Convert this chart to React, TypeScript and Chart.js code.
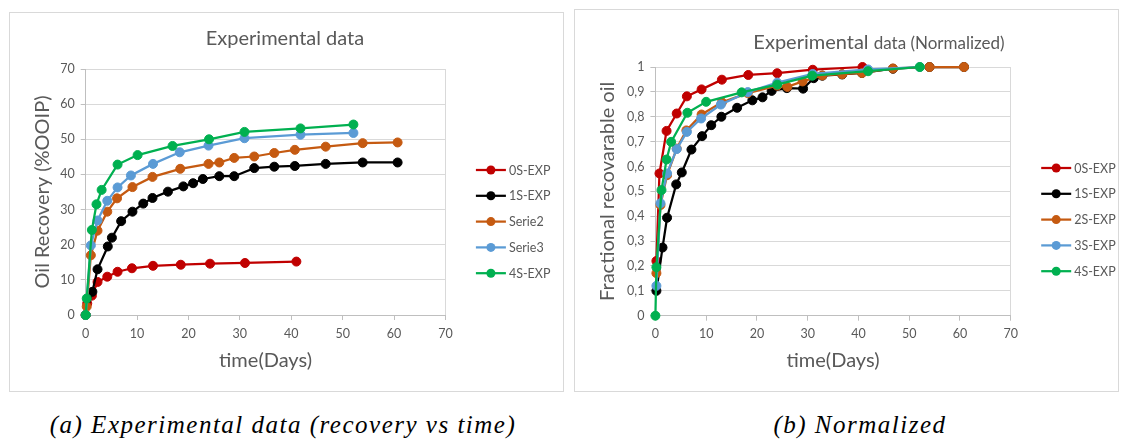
import React, { useEffect, useRef } from "react";
import { Chart, registerables } from "chart.js";

Chart.register(...registerables);

const FONT = "Lato, 'Open Sans', sans-serif";
const TEXT = "#595959";
const GRID = "#d9d9d9";
const AXIS = "#bfbfbf";

const RED = "#c00000";
const BLACK = "#000000";
const ORANGE = "#c55a11";
const BLUE = "#5b9bd5";
const GREEN = "#00b050";

// ---- Oil recovery (%OOIP) vs time (days) ----
const rec0sDays = [0, 0.3, 1.2, 2.3, 4.2, 6.2, 9, 13.1, 18.5, 24.2, 31, 41];
const rec0sVals = [0, 3.3, 5.5, 9.4, 10.9, 12.3, 13.3, 14.0, 14.3, 14.6, 14.8, 15.2];

const rec1sDays = [0, 1.3, 2.3, 4.3, 5.1, 6.9, 9.1, 11.2, 13.0, 16.0, 19.0, 20.9, 22.8, 26.0, 28.9, 32.8, 36.7, 40.7, 46.7, 53.9, 60.7];
const rec1sVals = [0, 6.6, 13.0, 19.5, 22.0, 26.7, 29.4, 31.7, 33.3, 35.1, 36.6, 37.5, 38.7, 39.5, 39.5, 41.8, 42.2, 42.4, 43.0, 43.4, 43.4];

const rec2Days = [0, 0.2, 1.0, 2.3, 4.2, 6.1, 9.1, 13.0, 18.4, 23.9, 26.0, 28.9, 32.8, 36.7, 40.7, 46.7, 53.9, 60.7];
const rec2Vals = [0, 2.4, 17.0, 24.0, 29.4, 33.2, 36.4, 39.3, 41.6, 43.0, 43.4, 44.7, 45.1, 46.1, 47.0, 47.9, 48.9, 49.1];

const rec3Days = [0, 1.0, 2.3, 4.2, 6.2, 8.8, 13.1, 18.3, 23.9, 30.9, 41.8, 52.1];
const rec3Vals = [0, 19.8, 26.9, 32.5, 36.3, 39.7, 43.0, 46.3, 48.2, 50.3, 51.3, 51.8];

const rec4sDays = [0, 0.2, 1.2, 2.1, 3.1, 6.2, 10.1, 16.9, 24.0, 30.9, 41.8, 52.1];
const rec4sVals = [0, 4.7, 24.2, 31.5, 35.6, 42.8, 45.5, 48.1, 50.0, 52.1, 53.1, 54.2];

const recLabels = ["0S-EXP", "1S-EXP", "Serie2", "Serie3", "4S-EXP"];

// ---- Fractional recoverable oil vs time (days) ----
const frac0sDays = [0.2, 0.8, 2.2, 4.2, 6.2, 9.1, 13.1, 18.3, 24.0, 31.0, 40.8];
const frac0sVals = [0.22, 0.572, 0.743, 0.813, 0.882, 0.91, 0.949, 0.968, 0.975, 0.989, 1.0];

const frac1sDays = [0.2, 1.4, 2.3, 4.1, 5.2, 7.1, 9.2, 11.0, 13.0, 16.1, 19.1, 21.1, 22.9, 25.9, 29.1, 31.2, 32.9, 36.8, 40.7, 46.8, 54.0, 60.8];
const frac1sVals = [0.1, 0.274, 0.394, 0.528, 0.576, 0.668, 0.722, 0.766, 0.8, 0.836, 0.866, 0.878, 0.904, 0.915, 0.913, 0.955, 0.965, 0.97, 0.976, 0.993, 1.0, 1.0];

const frac2sDays = [0.2, 1.0, 2.3, 4.2, 6.1, 9.1, 13.1, 18.2, 24.0, 26.0, 29.0, 32.9, 36.8, 40.7, 46.8, 54.0, 60.8];
const frac2sVals = [0.171, 0.445, 0.565, 0.672, 0.745, 0.809, 0.858, 0.895, 0.925, 0.92, 0.942, 0.966, 0.971, 0.976, 0.994, 1.0, 1.0];

const frac3sDays = [0.2, 1.0, 2.3, 4.2, 6.2, 9.0, 12.9, 18.2, 24.0, 31.0, 41.9, 52.1];
const frac3sVals = [0.12, 0.452, 0.572, 0.67, 0.739, 0.793, 0.849, 0.899, 0.937, 0.972, 0.99, 1.0];

const frac4sDays = [0, 0.2, 1.2, 2.2, 3.1, 6.3, 10.0, 17.0, 24.0, 30.9, 41.9, 52.1];
const frac4sVals = [0, 0.195, 0.505, 0.628, 0.699, 0.816, 0.86, 0.898, 0.929, 0.965, 0.983, 1.0];

const fracLabels = ["0S-EXP", "1S-EXP", "2S-EXP", "3S-EXP", "4S-EXP"];

const seriesColors = [RED, BLACK, ORANGE, BLUE, GREEN];

type Series = { label: string; days: number[]; values: number[]; color: string };

const recoverySeries: Series[] = [
  { label: recLabels[0], days: rec0sDays, values: rec0sVals, color: seriesColors[0] },
  { label: recLabels[1], days: rec1sDays, values: rec1sVals, color: seriesColors[1] },
  { label: recLabels[2], days: rec2Days, values: rec2Vals, color: seriesColors[2] },
  { label: recLabels[3], days: rec3Days, values: rec3Vals, color: seriesColors[3] },
  { label: recLabels[4], days: rec4sDays, values: rec4sVals, color: seriesColors[4] },
];

const fractionSeries: Series[] = [
  { label: fracLabels[0], days: frac0sDays, values: frac0sVals, color: seriesColors[0] },
  { label: fracLabels[1], days: frac1sDays, values: frac1sVals, color: seriesColors[1] },
  { label: fracLabels[2], days: frac2sDays, values: frac2sVals, color: seriesColors[2] },
  { label: fracLabels[3], days: frac3sDays, values: frac3sVals, color: seriesColors[3] },
  { label: fracLabels[4], days: frac4sDays, values: frac4sVals, color: seriesColors[4] },
];

type Part = { text: string; size: number };

// Chart heading drawn from text runs of different sizes, centred on x.
function headingPlugin(parts: Part[], cx: number, baseline: number) {
  return {
    id: "heading",
    afterDraw(chart: any) {
      const ctx = chart.ctx as CanvasRenderingContext2D;
      ctx.save();
      ctx.fillStyle = TEXT;
      ctx.textBaseline = "alphabetic";
      ctx.textAlign = "left";
      const widths = parts.map((p) => {
        ctx.font = `${p.size}px ${FONT}`;
        return ctx.measureText(p.text).width;
      });
      let x = cx - widths.reduce((a, b) => a + b, 0) / 2;
      parts.forEach((p, i) => {
        ctx.font = `${p.size}px ${FONT}`;
        ctx.fillText(p.text, x, baseline);
        x += widths[i];
      });
      ctx.restore();
    },
  };
}

// Legend entries: a short line with a marker, then the series name.
function lineLegendPlugin(offsetX: number, offsetY: number, step: number) {
  return {
    id: "lineLegend",
    afterDraw(chart: any) {
      const ctx = chart.ctx as CanvasRenderingContext2D;
      const area = chart.chartArea;
      const x0 = area.right + offsetX;
      ctx.save();
      chart.data.datasets.forEach((ds: any, i: number) => {
        const y = area.top + offsetY + i * step;
        ctx.strokeStyle = ds.borderColor;
        ctx.lineWidth = 2.25;
        ctx.beginPath();
        ctx.moveTo(x0, y);
        ctx.lineTo(x0 + 30, y);
        ctx.stroke();
        ctx.fillStyle = ds.borderColor;
        ctx.beginPath();
        ctx.arc(x0 + 15, y, 4.5, 0, Math.PI * 2);
        ctx.fill();
        ctx.fillStyle = TEXT;
        ctx.font = `12.5px ${FONT}`;
        ctx.textBaseline = "middle";
        ctx.textAlign = "left";
        ctx.fillText(ds.label, x0 + 33, y + 0.5);
      });
      ctx.restore();
    },
  };
}

type Spec = {
  series: Series[];
  yMax: number;
  yStep: number;
  yTitle: string;
  yFormat: (v: number) => string;
  heading: Part[];
  headingX: number;
  headingBaseline: number;
  padTop: number;
  padRight: number;
  yAxisWidth: number;
  xAxisHeight: number;
};

function buildChart(canvas: HTMLCanvasElement, spec: Spec) {
  const n = spec.series.length;
  return new Chart(canvas, {
    type: "scatter",
    data: {
      datasets: spec.series.map((s, i) => ({
        label: s.label,
        data: s.days.map((d, k) => ({ x: d, y: s.values[k] })),
        showLine: true,
        clip: false,
        borderColor: s.color,
        backgroundColor: s.color,
        pointBackgroundColor: s.color,
        pointBorderColor: s.color,
        borderWidth: 2.25,
        pointRadius: 4.5,
        pointHoverRadius: 4.5,
        pointBorderWidth: 1,
        tension: 0,
        order: n - 1 - i,
      })),
    },
    options: {
      responsive: false,
      animation: false,
      events: [],
      layout: { padding: { top: spec.padTop, right: spec.padRight, bottom: 0, left: 0 } },
      plugins: {
        legend: { display: false },
        tooltip: { enabled: false },
        title: { display: false },
      },
      scales: {
        x: {
          type: "linear",
          min: 0,
          max: 70,
          ticks: {
            stepSize: 10,
            color: TEXT,
            font: { family: FONT, size: 12.5 },
            padding: 6,
          },
          grid: {
            color: (ctx: any) => (ctx.tick && ctx.tick.value === 70 ? GRID : "rgba(0,0,0,0)"),
            tickColor: AXIS,
            tickLength: 5,
          },
          border: { color: AXIS },
          title: {
            display: true,
            text: "time(Days)",
            color: TEXT,
            font: { family: FONT, size: 20 },
            padding: { top: 0, bottom: 18 },
          },
          afterFit: (scale: any) => {
            scale.height = spec.xAxisHeight;
          },
        },
        y: {
          type: "linear",
          min: 0,
          max: spec.yMax,
          ticks: {
            stepSize: spec.yStep,
            color: TEXT,
            font: { family: FONT, size: 12.5 },
            padding: 6,
            callback: (v: any) => spec.yFormat(Number(v)),
          },
          grid: { color: GRID, tickColor: AXIS, tickLength: 5 },
          border: { color: AXIS },
          title: {
            display: true,
            text: spec.yTitle,
            color: TEXT,
            font: { family: FONT, size: 20 },
            padding: { top: 21, bottom: 0 },
          },
          afterFit: (scale: any) => {
            scale.width = spec.yAxisWidth;
          },
        },
      },
    },
    plugins: [
      headingPlugin(spec.heading, spec.headingX, spec.headingBaseline),
      lineLegendPlugin(30.5, 101, 25.8),
    ],
  } as any);
}

function ChartBox(props: {
  spec: Spec;
  left: number;
  top: number;
  width: number;
  height: number;
}) {
  const ref = useRef<HTMLCanvasElement | null>(null);
  useEffect(() => {
    if (!ref.current) return;
    const chart = buildChart(ref.current, props.spec);
    return () => chart.destroy();
  }, []);
  return (
    <div
      style={{
        position: "absolute",
        left: props.left,
        top: props.top,
        width: props.width,
        height: props.height,
        border: `1px solid ${GRID}`,
        background: "#fff",
      }}
    >
      <canvas ref={ref} width={props.width} height={props.height} style={{ display: "block" }} />
    </div>
  );
}

const recoverySpec: Spec = {
  series: recoverySeries,
  yMax: 70,
  yStep: 10,
  yTitle: "Oil Recovery (%OOIP)",
  yFormat: (v) => String(Math.round(v)),
  heading: [{ text: "Experimental data", size: 20 }],
  headingX: 275,
  headingBaseline: 32,
  padTop: 56,
  padRight: 117.6,
  yAxisWidth: 75.7,
  xAxisHeight: 76,
};

const fractionSpec: Spec = {
  series: fractionSeries,
  yMax: 1,
  yStep: 0.1,
  yTitle: "Fractional recovarable oil",
  yFormat: (v) => String(Math.round(v * 10) / 10).replace(".", ","),
  heading: [
    { text: "Experimental ", size: 20 },
    { text: "data (Normalized)", size: 17 },
  ],
  headingX: 304,
  headingBaseline: 39,
  padTop: 57,
  padRight: 107.3,
  yAxisWidth: 80.4,
  xAxisHeight: 75.3,
};

const captionStyle: React.CSSProperties = {
  position: "absolute",
  top: 410,
  fontFamily: "'Liberation Serif', serif",
  fontStyle: "italic",
  fontSize: 25,
  letterSpacing: 1.5,
  color: "#000",
  whiteSpace: "nowrap",
  textAlign: "center",
  lineHeight: "30px",
};

export default function App() {
  return (
    <div style={{ position: "absolute", left: 0, top: 0, width: 1121, height: 442, background: "#fff" }}>
      <ChartBox spec={recoverySpec} left={9} top={12} width={553} height={378} />
      <ChartBox spec={fractionSpec} left={574} top={9} width={543} height={381} />
      <div style={{ ...captionStyle, left: 23, width: 520 }}>(a) Experimental data (recovery vs time)</div>
      <div style={{ ...captionStyle, left: 760, width: 200 }}>(b) Normalized</div>
    </div>
  );
}
